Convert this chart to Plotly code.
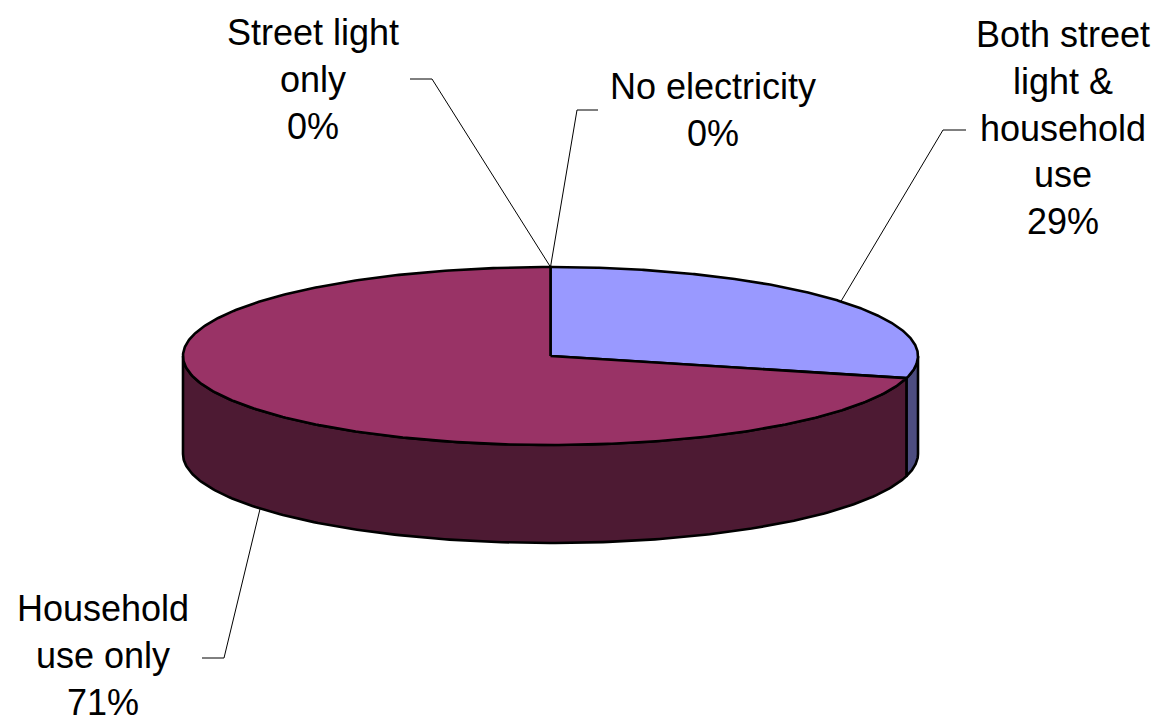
import numpy as np
import plotly.graph_objects as go

# Share of respondents by type of electricity use
categories = ["Both street light & household use", "Household use only",
              "Street light only", "No electricity"]
label_text = ["Both street<br>light &<br>household<br>use", "Household<br>use only",
              "Street light<br>only", "No electricity"]
values = [29, 71, 0, 0]

top_colors = ["#9999FF", "#993366", "#FFFFCC", "#CCFFFF"]
side_colors = ["#4D4D80", "#4D1A33", "#80806A", "#6A8080"]

W, H = 1163, 715
CX, CY = 550.5, 356.0        # centre of top ellipse
RX, RY = 367.5, 89.0         # ellipse radii
DEPTH = 98.0                 # thickness of the pie

# label placement (centre of text block) and elbow of leader line
label_pos = [(1063, 128), (103, 655), (313, 79), (713, 110)]
elbows = [((943, 130), (966, 130)), ((224, 658), (202, 658)),
          ((432, 79), (410, 79)), ((577, 110), (598, 110))]


def proj(theta_deg, dz=0.0):
    t = np.radians(theta_deg)
    return CX + RX * np.sin(t), CY - RY * np.cos(t) + dz


total = sum(values)
starts, ends = [], []
acc = 0.0
for v in values:
    starts.append(acc / total * 360)
    acc += v
    ends.append(acc / total * 360)

fig = go.Figure()

# side walls (front half only: 90..270 degrees clockwise from 12 o'clock)
for i in range(len(values)):
    a1, a2 = max(starts[i], 90), min(ends[i], 270)
    if a2 <= a1:
        continue
    th = np.linspace(a1, a2, 200)
    xt, yt = proj(th)
    xb, yb = proj(th[::-1], DEPTH)
    xs = np.concatenate([xt, xb, xt[:1]])
    ys = np.concatenate([yt, yb, yt[:1]])
    fig.add_trace(go.Scatter(x=xs, y=ys, mode="lines", fill="toself",
                             fillcolor=side_colors[i],
                             line=dict(color="black", width=2.6),
                             hoverinfo="skip", showlegend=False))

# top faces
for i in range(len(values)):
    if ends[i] - starts[i] <= 0:
        continue
    th = np.linspace(starts[i], ends[i], 400)
    xa, ya = proj(th)
    xs = np.concatenate([[CX], xa, [CX]])
    ys = np.concatenate([[CY], ya, [CY]])
    fig.add_trace(go.Scatter(x=xs, y=ys, mode="lines", fill="toself",
                             fillcolor=top_colors[i],
                             line=dict(color="black", width=2.6),
                             name=categories[i], hoverinfo="skip",
                             showlegend=False))

# leader lines and labels
for i in range(len(values)):
    mid = (starts[i] + ends[i]) / 2
    if 90 < mid < 270:
        ax, ay = proj(mid, DEPTH)
    else:
        ax, ay = proj(mid)
    (ex, ey), (hx, hy) = elbows[i]
    fig.add_trace(go.Scatter(x=[ax, ex, hx], y=[ay, ey, hy], mode="lines",
                             line=dict(color="black", width=1),
                             hoverinfo="skip", showlegend=False))
    lx, ly = label_pos[i]
    fig.add_annotation(x=lx, y=ly, xref="x", yref="y",
                       text=f"{label_text[i]}<br>{values[i] / total * 100:.0f}%",
                       showarrow=False, xanchor="center", yanchor="middle",
                       align="center",
                       font=dict(family="Liberation Sans, Arial, sans-serif",
                                 size=36, color="black"))

fig.update_layout(
    width=W, height=H,
    margin=dict(l=0, r=0, t=0, b=0),
    paper_bgcolor="white", plot_bgcolor="white",
    xaxis=dict(range=[0, W], visible=False, fixedrange=True),
    yaxis=dict(range=[H, 0], visible=False, fixedrange=True),
)

fig.write_html("out.html")
